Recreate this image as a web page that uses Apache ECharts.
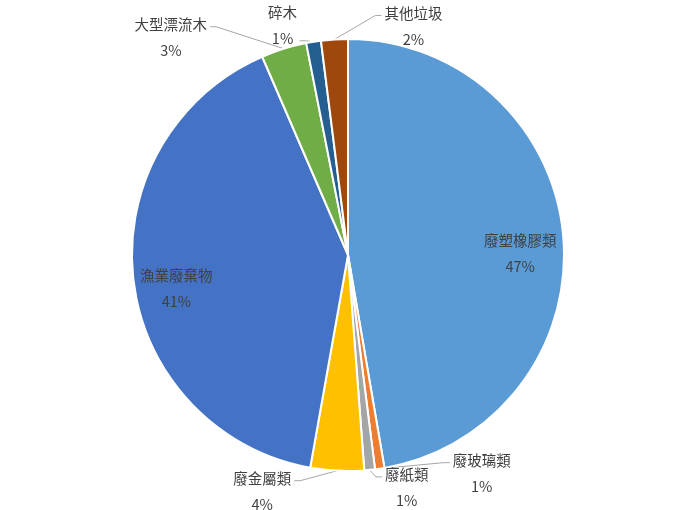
<!DOCTYPE html>
<html>
<head>
<meta charset="utf-8">
<script src="https://cdn.jsdelivr.net/npm/echarts@6/dist/echarts.min.js"></script>
<style>
html, body { margin: 0; padding: 0; background: #fff; }
#pie { width: 699px; height: 510px; }
</style>
</head>
<body>
<div id="pie"></div>
<script>
// 海洋廢棄物組成 (%)
var nameList = ['廢塑橡膠類', '廢玻璃類', '廢紙類', '廢金屬類', '漁業廢棄物', '大型漂流木', '碎木', '其他垃圾']
var valueList = [47.3, 0.7, 0.8, 4.0, 40.7, 3.4, 1.1, 2.0]
var colorList = ['#5B9BD5', '#ED7D31', '#A5A5A5', '#FFC000', '#4472C4', '#70AD47', '#255E91', '#9E480E']

// label placement: inside (big slices) or offset from slice edge [dx, dy, row the leader ends on]
var insideList = [true, false, false, false, true, false, false, false]
var labelOffsets = [null, [102, -8, 0], [37, 5, 0], [-75, 8, 0], null, [-113, -24, 0], [-31, -29, 1], [79, -26, 0]]

var CX = 348, CY = 255, R = 216

var total = 0
for (var i in valueList) total += valueList[i]
var midAngles = []
var acc = 0
for (var i in valueList) {
    midAngles.push((acc + valueList[i] / 2) / total * Math.PI * 2)
    acc += valueList[i]
}

var seriesData = []
for (var i in nameList) {
    seriesData.push({
        name: nameList[i],
        value: valueList[i],
        itemStyle: { color: colorList[i] },
        label: { position: insideList[i] ? 'inside' : 'outside' }
    })
}

pieChart = echarts.init(document.getElementById('pie'))

var pieOption = {
    animation: false,
    series: [
        {
            type: 'pie',
            center: [CX, CY],
            radius: [0, R],
            startAngle: 90,
            clockwise: true,
            avoidLabelOverlap: false,
            data: seriesData,
            itemStyle: { borderColor: '#fff', borderWidth: 2 },
            label: {
                show: true,
                formatter: function (p) {
                    return p.name + '\n' + Math.round(p.value / total * 100) + '%'
                },
                fontFamily: 'Noto Sans CJK TC',
                fontSize: 14.5,
                lineHeight: 26,
                color: '#404040',
                align: 'center'
            },
            labelLine: {
                show: true,
                lineStyle: { color: '#A6A6A6', width: 1 }
            },
            labelLayout: function (params) {
                var i = params.dataIndex
                var a = midAngles[i]
                var sx = CX + R * Math.sin(a), sy = CY - R * Math.cos(a)
                if (insideList[i]) {
                    var d = R * 0.8
                    return {
                        x: CX + d * Math.sin(a),
                        y: CY - d * Math.cos(a) - 13,
                        align: 'center',
                        verticalAlign: 'top'
                    }
                }
                var off = labelOffsets[i]
                var lx = sx + off[0], ly = sy + off[1]
                var w = params.labelRect.width
                var half = off[2] == 0 ? w / 2 : 14
                var ex = off[0] > 0 ? lx - half - 3 : lx + half + 3
                var ey = ly + 2 + off[2] * 26
                var bx = off[0] > 0 ? ex - 6 : ex + 6
                return {
                    x: lx,
                    y: ly - 13,
                    align: 'center',
                    verticalAlign: 'top',
                    labelLinePoints: [[sx, sy], [bx, ey], [ex, ey]]
                }
            }
        }
    ]
}
pieChart.setOption(pieOption)
</script>
</body>
</html>
